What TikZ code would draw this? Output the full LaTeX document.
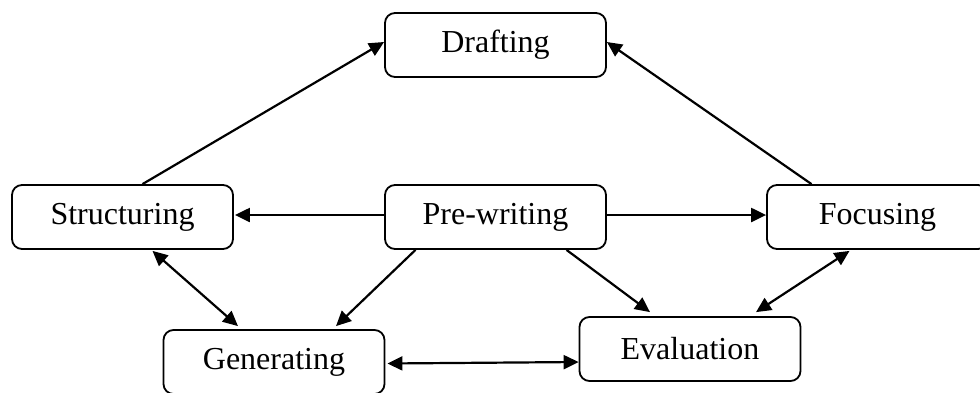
\documentclass[tikz,border=0pt]{standalone}
\usepackage{fontspec}
\setmainfont{Liberation Serif}
\usetikzlibrary{arrows.meta}
\tikzset{
  box/.style={draw, line width=1.8pt, rounded corners=10pt, minimum width=221pt, minimum height=64pt, inner sep=0pt, font=\fontsize{32}{36}\selectfont},
  arr/.style={line width=2.2pt, -{Triangle[length=15pt,width=14pt]}},
  darr/.style={line width=2.2pt, {Triangle[length=15pt,width=14pt]}-{Triangle[length=15pt,width=14pt]}}
}
\begin{document}
\begin{tikzpicture}[x=1pt,y=-1pt]
         \useasboundingbox (0,0) rectangle (980,392);
         %boxes
         \node[box] (draft) at (495.5,45) {Drafting};
         \node[box] (struct) at (122.5,217) {Structuring};
         \node[box] (prew) at (495.5,217) {Pre-writing};
         \node[box] (focus) at (877.5,217) {Focusing};
         \node[box] (gen) at (274,362) {Generating};
         \node[box] (eval) at (690,349) {Evaluation};
         %upper arrows
         \draw[arr] ([xshift=20pt]struct.north) -- ([yshift=3pt]draft.west);
         \draw[arr] ([xshift=-66pt]focus.north) -- ([yshift=3pt]draft.east);
         \draw[arr] ([yshift=2pt]prew.west) -- ([xshift=1pt,yshift=2pt]struct.east);
         \draw[arr] ([yshift=2pt]prew.east) -- ([yshift=2pt]focus.west);
         %lower arrows
         \draw[arr] ([xshift=-80pt]prew.south) -- ([xshift=62pt,yshift=3pt]gen.north);
         \draw[arr] ([xshift=71pt]prew.south) -- ([xshift=-40pt,yshift=4pt]eval.north);
         \draw[darr] ([xshift=30pt,yshift=-1pt]struct.south) -- ([xshift=-36pt,yshift=3pt]gen.north);
         \draw[darr] ([xshift=-28pt,yshift=-1pt]focus.south) -- ([xshift=66pt,yshift=4pt]eval.north);
         \draw[darr] ([xshift=2pt,yshift=-1.5pt]gen.east) -- ([yshift=-13pt]eval.west);
       \end{tikzpicture}
\end{document}
